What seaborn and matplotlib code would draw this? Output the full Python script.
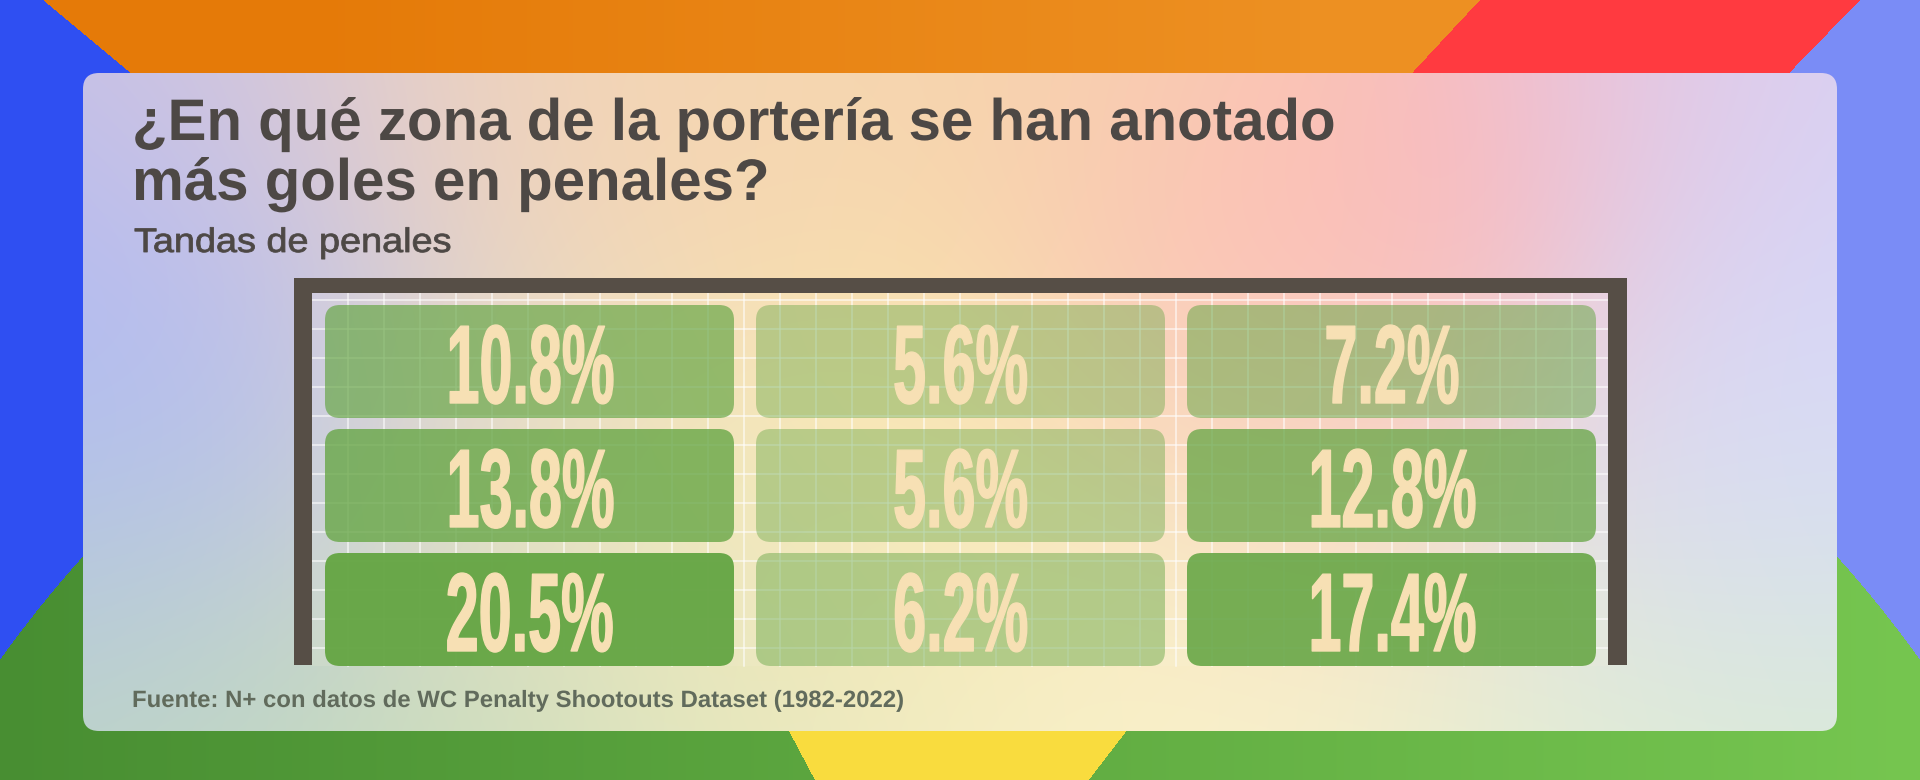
import numpy as np
import pandas as pd
import seaborn as sns
import matplotlib.pyplot as plt
import matplotlib.patheffects as pe
from matplotlib.colors import LinearSegmentedColormap, PowerNorm
from matplotlib.patches import FancyBboxPatch, Rectangle
from matplotlib.transforms import Affine2D

# porcentaje de goles por zona de la porteria (filas: altura, columnas: lado)
zonas_altura = ['Arriba', 'Medio', 'Abajo']
zonas_lado = ['Izquierda', 'Centro', 'Derecha']
arriba = [10.8, 5.6, 7.2]
medio = [13.8, 5.6, 12.8]
abajo = [20.5, 6.2, 17.4]

titulo = ['¿En qué zona de la portería se han anotado', 'más goles en penales?']
subtitulo = 'Tandas de penales'
fuente = 'Fuente: N+ con datos de WC Penalty Shootouts Dataset (1982-2022)'


class Squeeze(pe.AbstractPathEffect):
    """Estira/comprime el texto en horizontal (fuente condensada)."""

    def __init__(self, sx, stroke=0.0, anchor='left'):
        super().__init__()
        self.sx = sx
        self.stroke = stroke
        self.anchor = anchor

    def draw_path(self, renderer, gc, tpath, affine, rgbFace=None):
        ext = tpath.get_extents()
        xc = 0.0 if self.anchor == 'left' else (ext.x0 + ext.x1) / 2
        aff = Affine2D().translate(-xc, 0).scale(self.sx, 1).translate(xc, 0) + affine
        gc0 = renderer.new_gc()
        gc0.copy_properties(gc)
        if self.stroke:
            gc0.set_linewidth(self.stroke)
        renderer.draw_path(gc0, tpath, aff, rgbFace)
        gc0.restore()


def main():
    W, H = 1920, 780
    fig = plt.figure(figsize=(W / 100, H / 100), dpi=100)
    bg = fig.add_axes([0, 0, 1, 1])
    bg.set_xlim(0, W)
    bg.set_ylim(H, 0)
    bg.axis('off')

    # fondo de colores
    yy, xx = np.mgrid[0:H, 0:W] + 0.5
    t = np.clip((xx - 300) / 1000, 0, 1)[..., None]
    img = (1 - t) * np.array([229, 122, 8]) + t * np.array([237, 144, 34])
    img[xx < 43 + 1.2 * yy] = (47, 79, 242)
    img[(xx > 1480 - 0.93 * yy) & (xx < 1860 - 0.97 * yy)] = (255, 58, 64)
    img[xx >= 1860 - 0.97 * yy] = (122, 140, 246)
    circ = (xx - 960) ** 2 + (yy - 1346) ** 2 < 1180 ** 2
    tg = (xx / W)[..., None]
    green = (1 - tg) * np.array([72, 142, 50]) + tg * np.array([118, 198, 80])
    img[circ] = green[circ]
    yel = (yy > 600) & (xx > 790 + 0.53 * (yy - 733)) & (xx < 1125 - 0.77 * (yy - 733))
    img[yel] = (249, 220, 62)
    bg.imshow(img / 255, extent=(0, W, H, 0), zorder=0)

    # tarjeta con degradado
    anchors = [
        (90, 90, (205, 195, 228)), (90, 250, (170, 182, 248)),
        (90, 420, (172, 186, 245)), (90, 560, (182, 198, 228)),
        (90, 700, (190, 215, 195)),
        (250, 120, (215, 200, 220)), (250, 400, (190, 195, 235)),
        (250, 700, (195, 218, 190)),
        (450, 110, (242, 212, 185)), (750, 110, (245, 214, 178)),
        (1050, 110, (246, 213, 172)), (1250, 110, (250, 205, 178)),
        (1430, 200, (255, 172, 180)), (1250, 230, (252, 190, 182)),
        (1350, 320, (250, 195, 190)),
        (1600, 100, (235, 195, 220)), (1780, 100, (215, 210, 245)),
        (1780, 300, (212, 214, 250)), (1780, 500, (214, 222, 246)),
        (1650, 420, (222, 218, 240)),
        (1800, 710, (218, 236, 212)), (1550, 710, (228, 238, 212)),
        (1250, 710, (250, 242, 205)), (1000, 710, (248, 240, 198)),
        (750, 710, (225, 232, 195)), (500, 710, (205, 222, 190)),
        (500, 450, (238, 222, 190)), (950, 400, (250, 228, 172)),
        (1300, 480, (248, 226, 190)), (800, 600, (246, 232, 180)),
    ]
    cy, cx = np.mgrid[73:731:4, 83:1837:4] + 2.0
    acc = np.zeros(cx.shape + (3,))
    wsum = np.zeros(cx.shape)
    for ax_, ay_, col in anchors:
        w = np.exp(-((cx - ax_) ** 2 + (cy - ay_) ** 2) / (2 * 150 ** 2))
        acc += w[..., None] * np.array(col)
        wsum += w
    card_img = acc / wsum[..., None] / 255
    card = FancyBboxPatch((83, 73), 1754, 658, boxstyle='round,pad=0,rounding_size=16',
                          transform=bg.transData, facecolor='none', edgecolor='none')
    bg.add_patch(card)
    im = bg.imshow(card_img, extent=(83, 1837, 731, 73), interpolation='bilinear', zorder=1)
    im.set_clip_path(card)

    # porteria: red y marco
    bg.add_patch(Rectangle((312, 293), 1296, 373, facecolor='#fff6e0', alpha=0.12, lw=0, zorder=2))
    for x in np.arange(348, 1608, 36):
        bg.plot([x, x], [293, 666], color='white', alpha=0.7, lw=1.1, zorder=2.1)
    for y in np.arange(300, 666, 29):
        bg.plot([312, 1608], [y, y], color='white', alpha=0.7, lw=1.1, zorder=2.1)
    frame = '#564e46'
    bg.add_patch(Rectangle((294, 278), 1333, 15, fc=frame, lw=0, zorder=3))
    bg.add_patch(Rectangle((294, 278), 18, 387, fc=frame, lw=0, zorder=3))
    bg.add_patch(Rectangle((1608, 278), 19, 387, fc=frame, lw=0, zorder=3))

    fam = ['Liberation Sans Narrow', 'Liberation Sans', 'DejaVu Sans']
    t1 = bg.text(132, 140, titulo[0], fontsize=42.2, weight='bold', color='#4d4845',
                 family=fam, va='baseline', ha='left', zorder=5)
    t2 = bg.text(132, 200, titulo[1], fontsize=42.2, weight='bold', color='#4d4845',
                 family=fam, va='baseline', ha='left', zorder=5)
    t3 = bg.text(134, 252, subtitulo, fontsize=24.5, color='#4d4845',
                 family=fam, va='baseline', ha='left', zorder=5)
    t4 = bg.text(132, 707, fuente, fontsize=17, weight='bold', color='#616b5c',
                 family=fam, va='baseline', ha='left', zorder=5)

    # mapa de calor
    df = pd.DataFrame([arriba, medio, abajo], index=zonas_altura, columns=zonas_lado)
    etiquetas = df.map(lambda v: f'{v:.1f}%')
    verde = (0.40, 0.65, 0.27)
    cmap = LinearSegmentedColormap.from_list('verde', [(*verde, 0.33), (*verde, 0.97)])
    hm = fig.add_axes([314 / W, 1 - 671.5 / H, 1293 / W, 372 / H])
    sns.heatmap(df, ax=hm, cmap=cmap, norm=PowerNorm(0.6, vmin=5, vmax=20.5),
                cbar=False, annot=etiquetas, fmt='', xticklabels=False, yticklabels=False,
                annot_kws=dict(fontsize=80.4, weight='bold', color='#f7e0b4', family=fam))
    hm.axis('off')
    malla = hm.collections[0]
    colores = malla.to_rgba(df.to_numpy())
    malla.set_visible(False)
    px, py = 11 / 431, 5.5 / 124
    for i in range(len(zonas_altura)):
        for j in range(len(zonas_lado)):
            hm.add_patch(FancyBboxPatch(
                (j + px, i + py), 1 - 2 * px, 1 - 2 * py,
                boxstyle=f'round,pad=0,rounding_size={15 / 431}',
                mutation_aspect=431 / 124, fc=colores[i, j], ec='none', zorder=1))
    for t in hm.texts:
        t.set_va('baseline')
        t.set_y(t.get_position()[1] + 41.5 / 124)

    # ajuste de ancho de los textos
    fig.canvas.draw()
    r = fig.canvas.get_renderer()
    sx_t = 1203 / t1.get_window_extent(r).width
    t1.set_path_effects([Squeeze(sx_t)])
    t2.set_path_effects([Squeeze(sx_t)])
    t3.set_path_effects([Squeeze(318 / t3.get_window_extent(r).width, stroke=0.6)])
    t4.set_path_effects([Squeeze(774 / t4.get_window_extent(r).width)])
    sx_n = 168 / hm.texts[0].get_window_extent(r).width
    for t in hm.texts:
        t.set_path_effects([Squeeze(sx_n, stroke=1.0, anchor='center')])

    fig.savefig('out.png', dpi=100)


if __name__ == '__main__':
    main()
